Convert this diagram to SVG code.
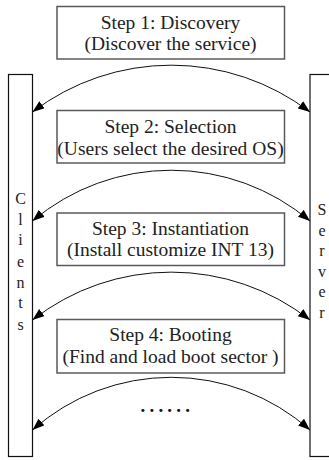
<svg xmlns="http://www.w3.org/2000/svg" width="329" height="460" viewBox="0 0 329 460">
  <style>
    text { font-family: 'Liberation Serif', 'Times New Roman', Tinos, 'DejaVu Serif', 'Noto Serif', serif; }
    .step { fill: #ffffff; stroke: #5a5a5a; stroke-width: 1.5; }
    .bar { fill: #ffffff; stroke: #111111; stroke-width: 1.2; }
    .label { font-size: 19.5px; fill: #222222; text-anchor: middle; }
    .side { font-size: 16px; fill: #222222; text-anchor: middle; }
    .arc { fill: none; stroke: #111111; stroke-width: 1; marker-start: url(#head); marker-end: url(#head); }
    .dots { font-size: 19px; font-weight: bold; fill: #111111; letter-spacing: 4.2px; }
  </style>
  <defs>
    <marker id="head" markerUnits="userSpaceOnUse" markerWidth="13" markerHeight="10" refX="12" refY="4.5" orient="auto-start-reverse">
      <path d="M0,0 L12,4.5 L0,9 Z" fill="#000000"/>
    </marker>
  </defs>

  <rect width="329" height="460" fill="#ffffff"/>

  <!-- client column -->
  <g id="clients">
    <rect class="bar" x="8.5" y="74.5" width="24" height="382"/>
    <text class="side" x="20.5" y="204">C</text>
    <text class="side" x="20.5" y="225">l</text>
    <text class="side" x="20.5" y="245">i</text>
    <text class="side" x="20.5" y="267">e</text>
    <text class="side" x="20.5" y="288">n</text>
    <text class="side" x="20.5" y="308">t</text>
    <text class="side" x="20.5" y="330">s</text>
  </g>

  <!-- server column -->
  <g id="server">
    <rect class="bar" x="310" y="74.5" width="30" height="382"/>
    <text class="side" x="322" y="215">S</text>
    <text class="side" x="322" y="236">e</text>
    <text class="side" x="322" y="256">r</text>
    <text class="side" x="322" y="277">v</text>
    <text class="side" x="322" y="297">e</text>
    <text class="side" x="322" y="318">r</text>
  </g>

  <g id="step1">
    <rect class="step" x="57" y="6.5" width="227.5" height="52.5"/>
    <text class="label" x="170.5" y="29">Step 1: Discovery</text>
    <text class="label" x="170.5" y="50">(Discover the service)</text>
  </g>

  <g id="step2">
    <rect class="step" x="57" y="110.5" width="227.5" height="52.5"/>
    <text class="label" x="170.5" y="132.5">Step 2: Selection</text>
    <text class="label" x="170.5" y="154.5">(Users select the desired OS)</text>
  </g>

  <g id="step3">
    <rect class="step" x="57" y="213" width="227.5" height="52.5"/>
    <text class="label" x="170.5" y="234.5">Step 3: Instantiation</text>
    <text class="label" x="170.5" y="256">(Install customize INT 13)</text>
  </g>

  <g id="step4">
    <rect class="step" x="57" y="319.5" width="227.5" height="53.5"/>
    <text class="label" x="170.5" y="341">Step 4: Booting</text>
    <text class="label" x="170.5" y="363">(Find and load boot sector )</text>
  </g>

  <!-- two-way exchanges between clients and server -->
  <g id="connectors">
    <path class="arc" d="M 32.5 112 A 229 229 0 0 1 310 112"/>
    <path class="arc" d="M 32.5 221 A 215 215 0 0 1 310 221"/>
    <path class="arc" d="M 32.5 320 A 225 225 0 0 1 310 320"/>
    <path class="arc" d="M 32.5 430 A 209 209 0 0 1 310 430"/>
  </g>

  <g id="more">
    <text class="dots" x="140.5" y="412">......</text>
  </g>
</svg>
